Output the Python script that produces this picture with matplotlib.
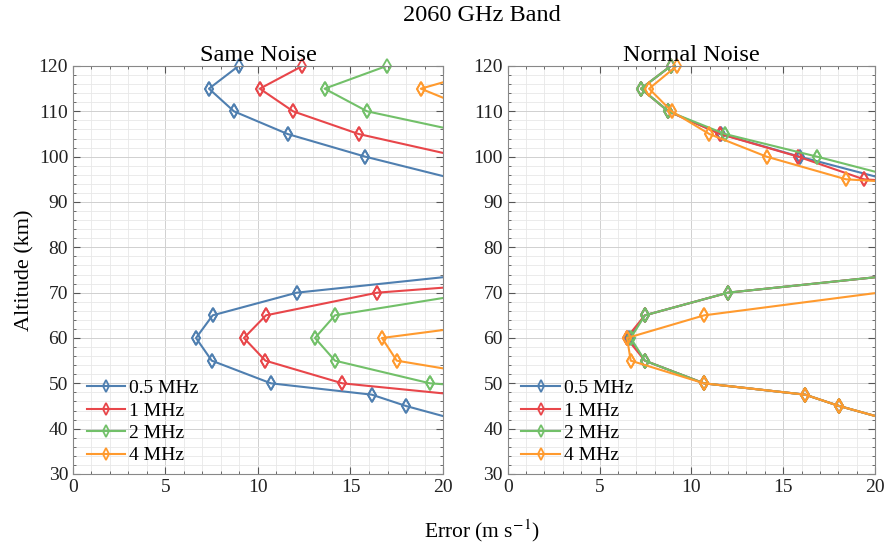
import numpy as np
import matplotlib
matplotlib.use("Agg")
import matplotlib.pyplot as plt
from matplotlib.ticker import MultipleLocator

plt.rcParams["font.family"] = ["Liberation Serif", "DejaVu Serif"]
plt.rcParams["mathtext.fontset"] = "stix"

# altitudes (km); values between 75 and 90 km are far off the 0-20 axis
altitude = [40, 45, 47.5, 50, 55, 60, 65, 70, 75, 80, 85, 90, 95, 100, 105, 110, 115, 120]

# Same Noise errors (m/s)
same_05 = [22.5, 18.0, 16.15, 10.7, 7.5, 6.65, 7.55, 12.1, 23.7, 40, 40, 40, 20.7, 15.8, 11.6, 8.7, 7.35, 8.95]
same_1 = [30, 25, 20.7, 14.56, 10.4, 9.24, 10.43, 16.45, 32.6, 40, 40, 40, 30, 20.9, 15.44, 11.9, 10.1, 12.4]
same_2 = [35, 32, 28, 19.3, 14.16, 13.08, 14.16, 21.8, 35, 40, 40, 40, 35, 30, 21.6, 15.9, 13.6, 16.95]
same_4 = [40, 35, 30, 24.85, 17.5, 16.7, 26.1, 35, 40, 40, 40, 40, 40, 35, 28, 21.8, 18.8, 23.1]

# Normal Noise errors (m/s)
norm_05 = [22.5, 18.05, 16.2, 10.69, 7.47, 6.6, 7.47, 12.0, 23.8, 40, 40, 40, 20.6, 15.9, 11.6, 8.75, 7.26, 8.88]
norm_1 = [22.5, 18.05, 16.2, 10.69, 7.47, 6.47, 7.47, 12.0, 23.8, 40, 40, 40, 19.4, 15.82, 11.56, 8.75, 7.26, 8.88]
norm_2 = [22.5, 18.05, 16.2, 10.69, 7.47, 6.7, 7.47, 12.0, 23.8, 40, 40, 40, 21.6, 16.85, 11.83, 8.75, 7.26, 8.88]
norm_4 = [22.5, 18.05, 16.2, 10.69, 6.7, 6.5, 10.7, 20.2, 35, 40, 40, 40, 18.43, 14.1, 10.98, 8.93, 7.7, 9.2]

labels = ["0.5 MHz", "1 MHz", "2 MHz", "4 MHz"]
colors = ["#4f7fb0", "#e8464a", "#72c069", "#ff9a2e"]

fig = plt.figure(figsize=(8.91, 5.5), dpi=100)
ax1 = fig.add_axes([0.0819, 0.1382, 0.4153, 0.7418])
ax2 = fig.add_axes([0.5698, 0.1382, 0.4122, 0.7418])

panels = [
    (ax1, "Same Noise", [same_05, same_1, same_2, same_4]),
    (ax2, "Normal Noise", [norm_05, norm_1, norm_2, norm_4]),
]

alt = np.array(altitude)
for ax, title, series in panels:
    for vals, lab, col in zip(series, labels, colors):
        v = np.array(vals)
        # line clipped to the box, markers drawn in full (MATLAB-like)
        ax.plot(v, alt, color=col, lw=1.5, marker="d", ms=7.5,
                mfc="none", mec=col, mew=1.3, label=lab, markevery=list(np.where(v <= 20)[0]))
        inside = v <= 20
        ax.plot(v[inside], alt[inside], ls="none", marker="d", ms=7.5,
                mfc="none", mec=col, mew=1.3, clip_on=False)
    ax.set_xlim(0, 20)
    ax.set_ylim(30, 120)
    ax.xaxis.set_major_locator(MultipleLocator(5))
    ax.xaxis.set_minor_locator(MultipleLocator(1))
    ax.yaxis.set_major_locator(MultipleLocator(10))
    ax.yaxis.set_minor_locator(MultipleLocator(2))
    ax.grid(True, which="major", color="#d0d0d0", lw=0.7)
    ax.grid(True, which="minor", color="#e8e8e8", lw=0.6)
    ax.set_axisbelow(True)
    ax.tick_params(which="both", direction="in", top=True, right=True,
                   colors="#555555", labelcolor="#222222")
    ax.tick_params(which="major", length=5, labelsize=14)
    ax.tick_params(which="minor", length=2.5)
    for sp in ax.spines.values():
        sp.set_color("#888888")
    ax.set_title(title, fontsize=17.5, pad=3)
    ax.legend(loc="lower left", bbox_to_anchor=(0.0, -0.01), frameon=False,
              fontsize=14, handlelength=2.0, markerscale=0.75,
              labelspacing=0.25, borderaxespad=0.3, handletextpad=0.2)

ax1.set_ylabel("Altitude (km)", fontsize=16, labelpad=3)
fig.text(0.541, 0.035, "Error (m s$^{-1}$)", ha="center", va="center", fontsize=15.5)
fig.text(0.541, 0.972, "2060 GHz Band", ha="center", va="center", fontsize=17.5)

fig.savefig("out.png", dpi=100)
